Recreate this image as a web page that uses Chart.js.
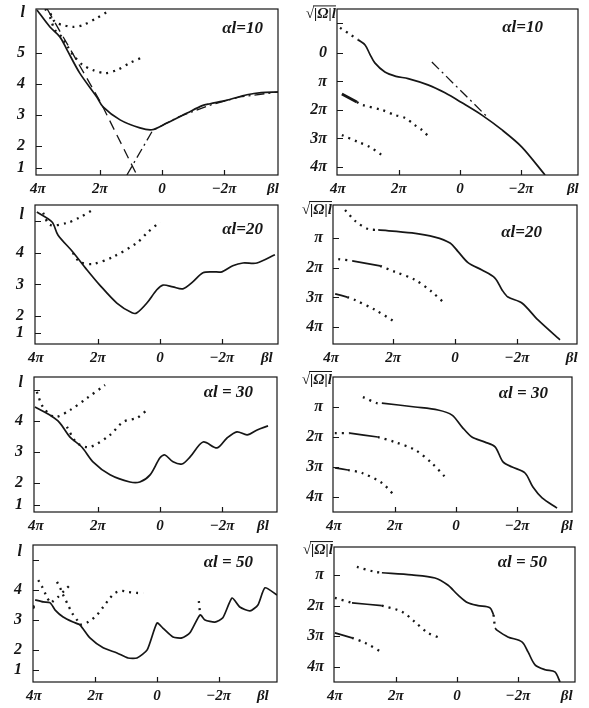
<!DOCTYPE html>
<html>
<head>
<meta charset="utf-8">
<script src="https://cdn.jsdelivr.net/npm/chart.js@4.4.0/dist/chart.umd.min.js"></script>
<style>
  html, body { margin: 0; padding: 0; background: #fff; }
  #wrap { position: relative; width: 589px; height: 708px; overflow: hidden; background: #fff; }
  #wrap canvas { position: absolute; }
</style>
</head>
<body>
<div id="wrap"></div>
<script>
// x values in units of pi (βl/π), y: l on the left panels, √|Ω|l/π on the right ones

// --- αl = 10 ---
const p1Solid = [[4.03,6.39],[3.61,5.84],[3.29,5.52],[3.06,5.1],[2.65,4.35],[2.1,3.58],[1.9,3.26],[1.35,2.84],[0.71,2.58],[0.32,2.52],[-0.16,2.74],[-0.81,3.06],[-1.3,3.3],[-1.55,3.36],[-2.1,3.48],[-2.74,3.65],[-3.2,3.72],[-3.74,3.74]];
const p1Dash = [[3.7,6.42],[2.0,3.45],[0.81,1.06]];
const p1DashDot = [[1.13,1.06],[0.3,2.5],[-0.5,2.92],[-1.5,3.3],[-2.5,3.58],[-3.74,3.74]];
const p1Dot1 = [[3.77,6.42],[3.61,6.29],[3.45,6.0],[3.19,5.9],[2.87,5.84],[2.55,5.9],[2.1,6.13],[1.77,6.32]];
const p1Dot2 = [[3.61,6.16],[3.45,5.74],[3.23,5.52],[3.03,5.19],[2.81,4.87],[2.55,4.61],[2.23,4.45],[1.84,4.35],[1.45,4.45],[1.03,4.68],[0.61,4.87]];

const p2Dot1 = [[3.93,-0.88],[3.6,-0.65],[3.34,-0.46]];
const p2Solid = [[3.34,-0.46],[3.11,-0.28],[2.95,0.05],[2.79,0.35],[2.46,0.67],[2.1,0.82],[1.7,0.9],[1.05,1.12],[0.49,1.4],[-0.07,1.75],[-0.72,2.18],[-1.38,2.7],[-2.03,3.3],[-2.79,4.28]];
const p2DashDot = [[0.92,0.32],[-0.89,2.24]];
const p2Thick = [[3.87,1.44],[3.38,1.72]];
const p2Dot2 = [[3.38,1.72],[3.21,1.82],[2.56,2.0],[2.13,2.18],[1.8,2.28],[1.48,2.53],[1.25,2.7],[0.98,2.98]];
const p2Dot3 = [[3.87,2.88],[3.34,3.12],[2.95,3.3],[2.56,3.58]];

// --- αl = 20 ---
const p3Solid = [[3.97,5.3],[3.48,4.98],[3.29,4.57],[2.81,4.03],[2.35,3.46],[1.94,2.98],[1.39,2.41],[0.9,2.1],[0.74,2.1],[0.42,2.41],[0.1,2.83],[-0.1,2.98],[-0.42,2.92],[-0.74,2.86],[-1.06,3.08],[-1.39,3.37],[-1.71,3.4],[-2.0,3.4],[-2.35,3.59],[-2.68,3.68],[-3.13,3.68],[-3.71,3.94]];
const p3Dot1 = [[3.77,5.27],[3.55,4.89],[3.0,4.95],[2.6,5.12],[2.16,5.37]];
const p3Dot2 = [[2.81,4.0],[2.58,3.71],[2.16,3.65],[1.52,3.87],[0.74,4.32],[0.42,4.63],[0,4.98]];

const p4Dot1 = [[3.55,0.06],[3.2,0.45],[2.8,0.7],[2.48,0.73]];
const p4Solid1 = [[2.48,0.73],[1.39,0.83],[0.65,0.97],[0.16,1.17],[-0.1,1.46],[-0.42,1.83],[-0.87,2.08],[-1.29,2.35],[-1.52,2.75],[-1.71,2.99],[-2.16,3.19],[-2.68,3.76],[-3.39,4.43]];
const p4Dot2a = [[3.77,1.71],[3.32,1.77]];
const p4Solid2 = [[3.32,1.77],[2.42,1.94]];
const p4Dot2b = [[2.42,1.94],[1.94,2.14],[1.29,2.41],[0.74,2.82],[0.32,3.22]];
const p4Solid3 = [[3.87,2.88],[3.48,2.99]];
const p4Dot3 = [[3.48,2.99],[3.23,3.09],[2.58,3.42],[1.94,3.83]];

// --- αl = 30 ---
const p5Solid = [[4.03,4.45],[3.55,4.19],[3.23,3.94],[2.9,3.48],[2.52,3.16],[2.16,2.68],[1.61,2.26],[0.97,2.03],[0.65,2.03],[0.32,2.26],[0,2.81],[-0.16,2.9],[-0.42,2.68],[-0.71,2.61],[-0.97,2.84],[-1.39,3.32],[-1.84,3.13],[-2.16,3.45],[-2.48,3.65],[-2.81,3.55],[-3.13,3.71],[-3.48,3.84]];
const p5Dot1 = [[3.97,4.94],[3.77,4.45],[3.39,4.13],[2.9,4.35],[2.35,4.74],[1.77,5.16]];
const p5Dot2 = [[3.0,3.81],[2.68,3.29],[2.26,3.16],[1.61,3.55],[1.19,3.97],[0.74,4.1],[0.42,4.35]];

const p6Dot1 = [[3.05,0.67],[2.59,0.87],[2.43,0.87]];
const p6Solid1 = [[2.43,0.87],[1.34,1.0],[0.59,1.1],[0.13,1.27],[-0.2,1.67],[-0.52,2.0],[-0.95,2.17],[-1.28,2.33],[-1.54,2.83],[-1.84,3.0],[-2.26,3.2],[-2.52,3.67],[-2.82,4.03],[-3.31,4.37]];
const p6Dot2a = [[3.97,1.87],[3.48,1.87]];
const p6Solid2 = [[3.48,1.87],[2.56,2.0]];
const p6Dot2b = [[2.56,2.0],[2.0,2.17],[1.34,2.43],[0.79,2.87],[0.36,3.33]];
const p6Solid3 = [[3.97,3.03],[3.54,3.1]];
const p6Dot3 = [[3.54,3.1],[3.08,3.2],[2.43,3.53],[2.0,3.97]];

// --- αl = 50 ---
const p7Solid = [[3.96,3.67],[3.7,3.6],[3.47,3.57],[3.31,3.33],[3.05,3.1],[2.73,2.93],[2.5,2.83],[2.18,2.4],[1.75,2.07],[1.3,1.9],[0.94,1.73],[0.65,1.73],[0.32,2.0],[0,2.9],[-0.19,2.73],[-0.52,2.43],[-0.81,2.4],[-1.07,2.57],[-1.4,3.17],[-1.56,3.0],[-1.88,2.93],[-2.14,3.07],[-2.44,3.73],[-2.69,3.43],[-3.02,3.3],[-3.28,3.5],[-3.51,4.07],[-3.9,3.83]];
const p7DotA = [[3.86,4.33],[3.73,4.1],[3.64,3.9],[3.57,3.73],[3.47,3.6]];
const p7DotB = [[3.25,4.27],[3.15,4.07],[3.05,3.83],[2.89,3.5],[2.76,3.23],[2.6,3.0],[2.5,2.83]];
const p7DotC = [[3.41,3.6],[3.21,3.77],[2.99,4.0],[2.76,4.23]];
const p7DotD = [[2.5,2.83],[2.24,2.93],[1.95,3.17],[1.75,3.43],[1.53,3.73],[1.36,3.9],[1.14,3.97],[0.94,3.93],[0.65,3.9],[0.45,3.9]];
const p7DotE = [[-1.36,3.63],[-1.4,3.2]];
const p7Spot = [[4.03,3.43]];

const p8Dot1 = [[3.28,0.74],[2.69,0.9],[2.46,0.93]];
const p8Solid1 = [[2.46,0.93],[1.48,1.0],[0.72,1.1],[0.3,1.33],[-0.03,1.65],[-0.36,1.91],[-0.69,2.0],[-1.08,2.07],[-1.2,2.3]];
const p8DotV = [[-1.2,2.3],[-1.22,2.5],[-1.25,2.73]];
const p8Solid2 = [[-1.25,2.73],[-1.31,2.8],[-1.67,3.02],[-2.13,3.18],[-2.33,3.51],[-2.56,3.93],[-2.89,4.09],[-3.21,4.16],[-3.38,4.49]];
const p8Dot2a = [[4.0,1.75],[3.44,1.91]];
const p8SolidB = [[3.44,1.91],[2.46,2.0]];
const p8Dot2b = [[2.46,2.0],[1.8,2.2],[1.38,2.53],[0.95,2.89],[0.56,3.05]];
const p8SolidC = [[4.0,2.89],[3.44,3.05]];
const p8Dot3 = [[3.44,3.05],[3.02,3.21],[2.43,3.54]];

// tick labels
const xTicksCommon = [[4,'4π'],[2,'2π'],[0,'0'],[-2,'−2π']];
const p1YTicks = [[6.29,'l'],[5,'5'],[4,'4'],[3,'3'],[2,'2'],[1.29,'1']];
const p3YTicks = [[5.2,'l'],[5,''],[4,'4'],[3,'3'],[2,'2'],[1.46,'1']];
const p5YTicks = [[5.23,'l'],[5,''],[4,'4'],[3,'3'],[2,'2'],[1.29,'1']];
const p7YTicks = [[5.27,'l'],[5,''],[4,'4'],[3,'3'],[2,'2'],[1.33,'1']];
const p2YTicks = [[-1.05,''],[0,'0'],[1,'π'],[2,'2π'],[3,'3π'],[4,'4π']];
const rightYTicks = [[1,'π'],[2,'2π'],[3,'3π'],[4,'4π']];

const INK = '#161616';
const SERIF = '"Liberation Serif", "DejaVu Serif", serif';

const STYLES = {
  solid:   { borderWidth: 1.7 },
  thick:   { borderWidth: 2.8 },
  dot:     { borderWidth: 2.3, borderDash: [2, 5] },
  dash:    { borderWidth: 1.3, borderDash: [10, 6], tension: 0 },
  dashdot: { borderWidth: 1.3, borderDash: [10, 4, 2, 4], tension: 0 },
};

function line(pts, style) {
  return Object.assign({
    data: pts.map((p) => ({ x: p[0], y: p[1] })),
    showLine: true, pointRadius: 0, borderColor: INK, fill: false,
    tension: 0.3, borderCapStyle: 'butt',
  }, STYLES[style]);
}

function spot(pts) {
  return { data: pts.map((p) => ({ x: p[0], y: p[1] })), showLine: false, pointRadius: 2, backgroundColor: INK, borderWidth: 0 };
}

// frame, inward tick marks, αl caption and the √|Ω|l axis title
const decor = {
  id: 'decor',
  afterDatasetsDraw(chart, args, o) {
    const { ctx, chartArea: a, scales: { x, y } } = chart;
    ctx.save();
    ctx.strokeStyle = INK;
    ctx.lineWidth = 1.2;
    ctx.strokeRect(a.left, a.top, a.right - a.left, a.bottom - a.top);
    ctx.beginPath();
    o.xMarks.forEach((v) => { const px = Math.round(x.getPixelForValue(v)) + 0.5; ctx.moveTo(px, a.bottom); ctx.lineTo(px, a.bottom - 5); });
    o.yMarks.forEach((v) => { const py = Math.round(y.getPixelForValue(v)) + 0.5; ctx.moveTo(a.left, py); ctx.lineTo(a.left + 6, py); });
    ctx.stroke();

    ctx.fillStyle = INK;
    ctx.font = 'italic bold 17px ' + SERIF;
    ctx.textAlign = 'right';
    ctx.textBaseline = 'middle';
    ctx.fillText(o.label, a.right - o.labelAt[0], a.top + o.labelAt[1]);

    if (o.title) {
      const py = y.getPixelForValue(o.title[0]);
      ctx.font = 'italic bold 15px ' + SERIF;
      const full = o.title[1];
      const w = ctx.measureText(full).width;
      const wRoot = ctx.measureText('√').width;
      const x1 = a.left - 1;
      ctx.fillText(full, x1, py);
      ctx.lineWidth = 1;
      ctx.beginPath();
      ctx.moveTo(x1 - w + wRoot - 1, py - 8.5);
      ctx.lineTo(x1, py - 8.5);
      ctx.stroke();
    }
    ctx.restore();
  },
};

function renderPanel(p) {
  const [cx, cy, cw, ch] = p.box;
  const [L, T, R, B] = p.frame;
  const cv = document.createElement('canvas');
  cv.width = cw; cv.height = ch;
  cv.style.left = cx + 'px'; cv.style.top = cy + 'px';
  cv.style.width = cw + 'px'; cv.style.height = ch + 'px';
  document.getElementById('wrap').appendChild(cv);

  const xt = xTicksCommon.concat([[p.betaAt, 'βl']]);
  const yt = p.yTicks;

  new Chart(cv, {
    type: 'scatter',
    data: { datasets: p.series },
    plugins: [decor],
    options: {
      responsive: false, animation: false, devicePixelRatio: 1,
      layout: { padding: { left: 0, top: T - cy, right: cx + cw - R, bottom: 0 } },
      plugins: {
        legend: { display: false }, tooltip: { enabled: false },
        decor: {
          label: p.label, labelAt: p.labelAt, title: p.title,
          xMarks: [2, 0, -2],
          yMarks: yt.filter((t) => t[1] !== 'l').map((t) => t[0]),
        },
      },
      scales: {
        x: {
          type: 'linear', reverse: true, min: p.x[0], max: p.x[1],
          grid: { display: false, drawTicks: false }, border: { display: false },
          afterBuildTicks: (s) => { s.ticks = xt.map((t) => ({ value: t[0] })); },
          afterFit: (s) => { s.height = cy + ch - B; s.paddingLeft = 0; s.paddingRight = 0; },
          ticks: {
            autoSkip: false, maxRotation: 0, padding: 5, color: INK,
            font: { family: SERIF, size: 15, style: 'italic', weight: 'bold' },
            callback: (v, i) => xt[i][1],
          },
        },
        y: {
          type: 'linear', reverse: p.rev, min: p.y[0], max: p.y[1],
          grid: { display: false, drawTicks: false }, border: { display: false },
          afterBuildTicks: (s) => { s.ticks = yt.map((t) => ({ value: t[0] })); },
          afterFit: (s) => { s.width = L - cx; s.paddingTop = 0; s.paddingBottom = 0; },
          ticks: {
            autoSkip: false, padding: p.rev ? 10 : 11, color: INK,
            font: { family: SERIF, size: 16, style: 'italic', weight: 'bold' },
            callback: (v, i) => yt[i][1],
          },
        },
      },
    },
  });
}

const PANELS = [
  { box: [0, 0, 290, 195], frame: [36, 9, 278, 175], x: [-3.74, 4.06], y: [1.06, 6.42], rev: false,
    yTicks: p1YTicks, betaAt: -3.58, label: 'αl=10', labelAt: [15, 20],
    series: [line(p1Dash, 'dash'), line(p1DashDot, 'dashdot'), line(p1Solid, 'solid'), line(p1Dot1, 'dot'), line(p1Dot2, 'dot')] },
  { box: [290, 0, 299, 195], frame: [337, 9, 578, 175], x: [-3.87, 4.03], y: [-1.54, 4.28], rev: true,
    yTicks: p2YTicks, betaAt: -3.7, label: 'αl=10', labelAt: [35, 19], title: [-1.35, '√|Ω|l'],
    series: [line(p2Dot1, 'dot'), line(p2Solid, 'solid'), line(p2DashDot, 'dashdot'), line(p2Thick, 'thick'), line(p2Dot2, 'dot'), line(p2Dot3, 'dot')] },
  { box: [0, 195, 290, 170], frame: [35, 205, 278, 344], x: [-3.81, 4.03], y: [1.11, 5.52], rev: false,
    yTicks: p3YTicks, betaAt: -3.45, label: 'αl=20', labelAt: [15, 25],
    series: [line(p3Solid, 'solid'), line(p3Dot1, 'dot'), line(p3Dot2, 'dot')] },
  { box: [290, 195, 299, 170], frame: [333, 205, 577, 344], x: [-3.94, 3.94], y: [-0.11, 4.57], rev: true,
    yTicks: rightYTicks, betaAt: -3.77, label: 'αl=20', labelAt: [35, 28], title: [0.06, '√|Ω|l'],
    series: [line(p4Dot1, 'dot'), line(p4Solid1, 'solid'), line(p4Dot2a, 'dot'), line(p4Solid2, 'solid'), line(p4Dot2b, 'dot'), line(p4Solid3, 'solid'), line(p4Dot3, 'dot')] },
  { box: [0, 365, 290, 172], frame: [34, 377, 277, 512], x: [-3.77, 4.06], y: [1.06, 5.42], rev: false,
    yTicks: p5YTicks, betaAt: -3.32, label: 'αl = 30', labelAt: [24, 16],
    series: [line(p5Solid, 'solid'), line(p5Dot1, 'dot'), line(p5Dot2, 'dot')] },
  { box: [290, 365, 299, 172], frame: [333, 377, 572, 512], x: [-3.8, 4.03], y: [0, 4.5], rev: true,
    yTicks: rightYTicks, betaAt: -3.64, label: 'αl = 30', labelAt: [24, 17], title: [0.1, '√|Ω|l'],
    series: [line(p6Dot1, 'dot'), line(p6Solid1, 'solid'), line(p6Dot2a, 'dot'), line(p6Solid2, 'solid'), line(p6Dot2b, 'dot'), line(p6Solid3, 'solid'), line(p6Dot3, 'dot')] },
  { box: [0, 537, 290, 171], frame: [33, 545, 277, 682], x: [-3.9, 4.03], y: [0.93, 5.5], rev: false,
    yTicks: p7YTicks, betaAt: -3.44, label: 'αl = 50', labelAt: [24, 18],
    series: [Object.assign(line(p7Solid, 'solid'), { tension: 0.2 }), line(p7DotA, 'dot'), line(p7DotB, 'dot'), line(p7DotC, 'dot'), line(p7DotD, 'dot'), line(p7DotE, 'dot'), spot(p7Spot)] },
  { box: [290, 537, 299, 171], frame: [334, 547, 575, 682], x: [-3.87, 4.03], y: [0.09, 4.49], rev: true,
    yTicks: rightYTicks, betaAt: -3.6, label: 'αl = 50', labelAt: [28, 16], title: [0.19, '√|Ω|l'],
    series: [line(p8Dot1, 'dot'), line(p8Solid1, 'solid'), line(p8DotV, 'dot'), line(p8Solid2, 'solid'), line(p8Dot2a, 'dot'), line(p8SolidB, 'solid'), line(p8Dot2b, 'dot'), line(p8SolidC, 'solid'), line(p8Dot3, 'dot')] },
];

PANELS.forEach(renderPanel);
</script>
</body>
</html>
